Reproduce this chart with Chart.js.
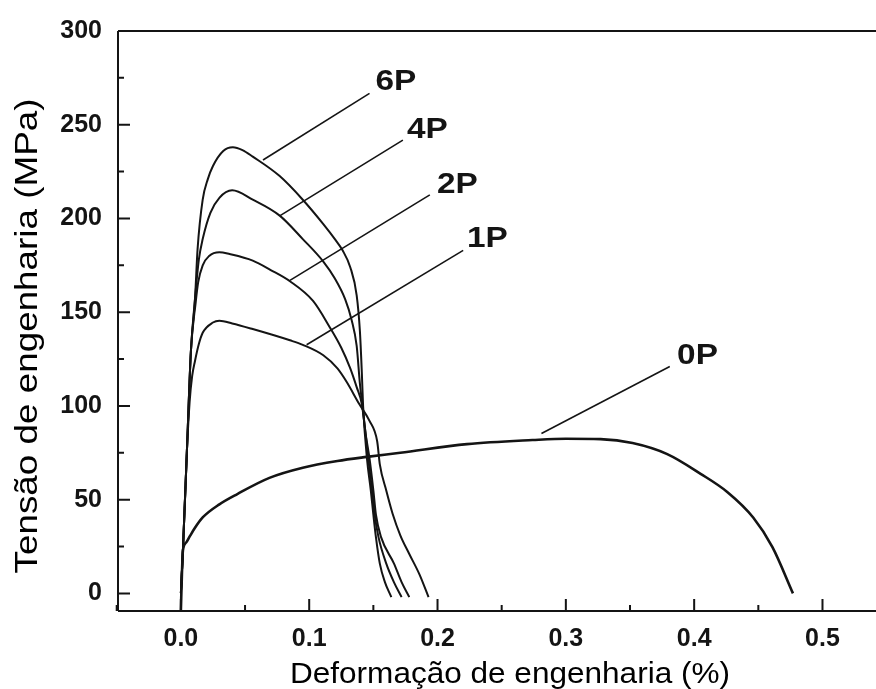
<!DOCTYPE html>
<html>
<head>
<meta charset="utf-8">
<script src="https://cdn.jsdelivr.net/npm/chart.js@4/dist/chart.umd.min.js"></script>
<style>
  html, body { margin: 0; padding: 0; background: #fff; overflow: hidden; }
  #wrap { width: 876px; height: 689px; }
</style>
</head>
<body>
<div id="wrap"><canvas id="stressChart" width="876" height="689"></canvas></div>
<script>
// Curvas tensão x deformação
const strain0P = [0, 0.0008, 0.0016, 0.004, 0.007, 0.011, 0.017, 0.03, 0.044, 0.069, 0.095, 0.122, 0.145, 0.171, 0.223, 0.274, 0.30, 0.327, 0.352, 0.379, 0.405, 0.426, 0.446, 0.461, 0.477];
const stress0P = [-9, 10, 23, 27, 30.5, 35, 40.5, 47.5, 53, 61.6, 67, 70.6, 72.8, 75, 79.6, 81.8, 82.5, 82.3, 80.2, 74.3, 63.8, 54, 40.5, 24.7, 0];

const strain1P = [0, 0.0016, 0.0047, 0.0068, 0.0088, 0.011, 0.014, 0.017, 0.025, 0.030, 0.040, 0.056, 0.085, 0.095, 0.111, 0.122, 0.129, 0.139, 0.147, 0.153, 0.155, 0.160, 0.165, 0.171, 0.178, 0.186, 0.193];
const stress1P = [0, 23, 76, 102, 116, 124, 133, 139, 144.5, 145.4, 144, 141, 135, 132.6, 127, 120, 113, 101, 92, 81, 69, 55, 42.5, 31, 21, 10, -2];

const strain2P = [0, 0.0016, 0.0047, 0.0078, 0.0115, 0.0135, 0.017, 0.022, 0.030, 0.038, 0.056, 0.070, 0.085, 0.103, 0.116, 0.125, 0.132, 0.137, 0.141, 0.144, 0.147, 0.150, 0.152, 0.156, 0.166, 0.172, 0.178];
const stress2P = [0, 23, 76, 129, 155, 166, 175, 180, 182, 181, 177.5, 172.5, 166.5, 156, 142, 131, 120, 110, 101, 85, 72, 55, 42, 30, 16, 6, -2];

const strain4P = [0, 0.0016, 0.0047, 0.0078, 0.011, 0.014, 0.017, 0.023, 0.030, 0.040, 0.056, 0.077, 0.095, 0.111, 0.120, 0.128, 0.133, 0.137, 0.1395, 0.1415, 0.144, 0.146, 0.149, 0.151, 0.154, 0.160, 0.166, 0.172];
const stress4P = [0, 23, 76, 129, 157, 178, 189, 203, 211, 215, 210, 201.5, 189, 177, 168, 157, 146, 132, 112, 100, 85, 72, 55, 42, 30, 16, 6, -2];

const strain6P = [0, 0.0016, 0.0047, 0.0078, 0.011, 0.013, 0.017, 0.021, 0.025, 0.033, 0.0405, 0.048, 0.056, 0.077, 0.095, 0.111, 0.120, 0.126, 0.132, 0.137, 0.1395, 0.141, 0.142, 0.145, 0.148, 0.150, 0.152, 0.155, 0.159, 0.164];
const stress6P = [0, 23, 76, 129, 157, 183.5, 210, 221, 228, 236, 238, 236.5, 233, 222.6, 210, 197, 189, 183, 174, 159, 140, 118, 100, 72, 55, 42, 30, 16, 6, -2];

// Rótulos e linhas de chamada
const curveNames = ['6P', '4P', '2P', '1P', '0P'];
const leaderStartX = [0.064, 0.077, 0.085, 0.098, 0.281];
const leaderStartY = [231.2, 201.4, 167, 132.6, 85.3];
const leaderEndX = [0.147, 0.173, 0.194, 0.220, 0.381];
const leaderEndY = [266.7, 241.8, 212.6, 183, 121];
const labelX = [0.1675, 0.1921, 0.2155, 0.2389, 0.4026];
const labelY = [268.3, 242.9, 213.7, 184.6, 122.5];

// Eixos
const xTicks = [0, 0.1, 0.2, 0.3, 0.4, 0.5];
const xMinorTicks = [-0.05, 0.05, 0.15, 0.25, 0.35, 0.45];
const yTicks = [0, 50, 100, 150, 200, 250, 300];
const yMinorTicks = [25, 75, 125, 175, 225, 275];
const xTitle = 'Deformação de engenharia (%)';
const yTitle = 'Tensão de engenharia (MPa)';

const ink = '#141414';
const pairs = (xs, ys) => xs.map((v, i) => ({ x: v, y: ys[i] }));

const curves = [
    { data: pairs(strain0P, stress0P), borderWidth: 2.6 },
    { data: pairs(strain1P, stress1P), borderWidth: 2 },
    { data: pairs(strain2P, stress2P), borderWidth: 2 },
    { data: pairs(strain4P, stress4P), borderWidth: 2 },
    { data: pairs(strain6P, stress6P), borderWidth: 2 }
].map(d => ({
    ...d,
    borderColor: ink,
    pointRadius: 0,
    cubicInterpolationMode: 'monotone',
    fill: false
}));

const leaders = curveNames.map((name, i) => ({
    data: [{ x: leaderStartX[i], y: leaderStartY[i] }, { x: leaderEndX[i], y: leaderEndY[i] }],
    borderColor: ink,
    borderWidth: 1.6,
    pointRadius: 0,
    tension: 0
}));

// Moldura, marcas internas dos eixos, rótulos e títulos
const framePlugin = {
    id: 'framePlugin',
    afterDraw(chart) {
        const { ctx, chartArea: a, scales: { x, y } } = chart;
        ctx.save();
        ctx.strokeStyle = ink;
        ctx.lineWidth = 2;
        ctx.beginPath();
        ctx.moveTo(a.left, a.top); ctx.lineTo(a.right, a.top);
        ctx.moveTo(a.left, a.top); ctx.lineTo(a.left, a.bottom);
        ctx.moveTo(a.left, a.bottom); ctx.lineTo(a.right, a.bottom);
        xTicks.forEach(v => { const p = x.getPixelForValue(v); ctx.moveTo(p, a.bottom); ctx.lineTo(p, a.bottom - 12); });
        xMinorTicks.forEach(v => { const p = x.getPixelForValue(v); ctx.moveTo(p, a.bottom); ctx.lineTo(p, a.bottom - 6); });
        yTicks.forEach(v => { const p = y.getPixelForValue(v); ctx.moveTo(a.left, p); ctx.lineTo(a.left + 12, p); });
        yMinorTicks.forEach(v => { const p = y.getPixelForValue(v); ctx.moveTo(a.left, p); ctx.lineTo(a.left + 6, p); });
        ctx.stroke();

        ctx.fillStyle = ink;
        ctx.textAlign = 'center';
        ctx.textBaseline = 'alphabetic';
        ctx.font = 'bold 29px "Liberation Sans", Arial, sans-serif';
        curveNames.forEach((name, i) => {
            ctx.save();
            ctx.translate(x.getPixelForValue(labelX[i]), y.getPixelForValue(labelY[i]));
            ctx.scale(1.15, 1);
            ctx.fillText(name, 0, 0);
            ctx.restore();
        });

        ctx.fillStyle = '#000';
        ctx.font = '29px "Liberation Sans", Arial, sans-serif';
        let w = ctx.measureText(xTitle).width;
        ctx.save();
        ctx.translate(510, 683);
        ctx.scale(440 / w, 1);
        ctx.fillText(xTitle, 0, 0);
        ctx.restore();

        ctx.font = '32px "Liberation Sans", Arial, sans-serif';
        ctx.textBaseline = 'middle';
        w = ctx.measureText(yTitle).width;
        ctx.save();
        ctx.translate(28, 336);
        ctx.rotate(-Math.PI / 2);
        ctx.scale(475 / w, 1);
        ctx.fillText(yTitle, 0, 0);
        ctx.restore();
        ctx.restore();
    }
};

const tickFont = { family: '"Liberation Sans", Arial, sans-serif', size: 25, weight: 'bold' };

new Chart(document.getElementById('stressChart'), {
    type: 'line',
    data: { datasets: [...curves, ...leaders] },
    options: {
        responsive: false,
        animation: false,
        devicePixelRatio: 1,
        layout: { padding: { top: 28, right: 0, left: 0, bottom: 0 } },
        plugins: { legend: { display: false }, tooltip: { enabled: false } },
        scales: {
            x: {
                type: 'linear',
                min: -0.049,
                max: 0.5417,
                grid: { display: false, drawTicks: false },
                border: { display: false },
                afterBuildTicks: s => { s.ticks = xTicks.map(v => ({ value: v })); },
                afterFit: s => { s.height = 78; },
                ticks: {
                    font: tickFont,
                    color: ink,
                    padding: 13,
                    maxRotation: 0,
                    autoSkip: false,
                    callback: v => v.toFixed(1)
                }
            },
            y: {
                type: 'linear',
                min: -9.4,
                max: 300,
                grid: { display: false, drawTicks: false },
                border: { display: false },
                afterBuildTicks: s => { s.ticks = yTicks.map(v => ({ value: v })); },
                afterFit: s => { s.width = 118; },
                ticks: {
                    font: tickFont,
                    color: ink,
                    padding: 16,
                    autoSkip: false,
                    callback: v => String(v)
                }
            }
        }
    },
    plugins: [framePlugin]
});
</script>
</body>
</html>
